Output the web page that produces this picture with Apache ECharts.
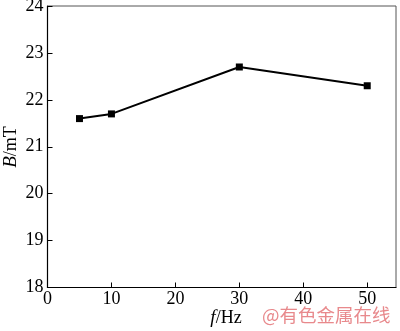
<!DOCTYPE html>
<html><head><meta charset="utf-8">
<script src="https://cdn.jsdelivr.net/npm/echarts@6/dist/echarts.min.js"></script>
<style>html,body{margin:0;padding:0;background:#fff}#c{width:400px;height:331px}</style>
</head><body><div id="c"></div>
<script>
const freq = [5, 10, 30, 50];
const bValues = [21.6, 21.7, 22.7, 22.3];
const xTicks = [0, 10, 20, 30, 40, 50];
const yTicks = [18, 19, 20, 21, 22, 23, 24];
const xName = ['f', '/Hz'];
const yName = ['B', '/mT'];

const chart = echarts.init(document.getElementById('c'));
const font = '"Liberation Serif", "Times New Roman", serif';
const richName = {
  i: {fontStyle: 'italic', fontFamily: font, fontSize: 19, fill: '#000', color: '#000'},
  n: {fontFamily: font, fontSize: 18, fill: '#000', color: '#000'}
};
chart.setOption({
  animation: false,
  backgroundColor: '#fff',
  grid: {left: 47.5, right: 4, top: 6, bottom: 43.5, containLabel: false, outerBoundsMode: 'none',
    show: true, borderColor: '#555', borderWidth: 1},
  xAxis: {
    type: 'value', min: 0, max: 54.5, interval: 10,
    axisLine: {lineStyle: {color: '#000', width: 1.2}},
    axisTick: {inside: true, length: 5, lineStyle: {color: '#000'}},
    axisLabel: {fontFamily: font, fontSize: 18, color: '#000', margin: 3, showMaxLabel: false,
      formatter: v => xTicks.includes(v) ? String(v) : ''},
    splitLine: {show: false}
  },
  yAxis: {
    type: 'value', min: 18, max: 24, interval: 1,
    axisLine: {lineStyle: {color: '#000', width: 1.2}},
    axisTick: {inside: true, length: 5, lineStyle: {color: '#000'}},
    axisLabel: {fontFamily: font, fontSize: 18, color: '#000', margin: 4,
      formatter: v => yTicks.includes(v) ? String(v) : ''},
    splitLine: {show: false}
  },
  series: [{
    type: 'line',
    data: freq.map((f, i) => [f, bValues[i]]),
    symbol: 'rect', symbolSize: 7,
    itemStyle: {color: '#000'},
    lineStyle: {color: '#000', width: 2}
  }],
  graphic: [{
    type: 'text', x: 226, y: 318,
    style: {text: '{i|' + xName[0] + '}{n|' + xName[1] + '}', rich: richName,
      align: 'center', verticalAlign: 'middle'}
  }, {
    type: 'text', x: 11, y: 147, rotation: Math.PI / 2,
    style: {text: '{i|' + yName[0] + '}{n|' + yName[1] + '}', rich: richName,
      align: 'center', verticalAlign: 'middle'}
  }, {
    type: 'text', left: 262, top: 306,
    style: {text: '@有色金属在线', font: '18.5px "Noto Sans CJK SC"', fill: '#e8898c'}
  }]
});
</script></body></html>
